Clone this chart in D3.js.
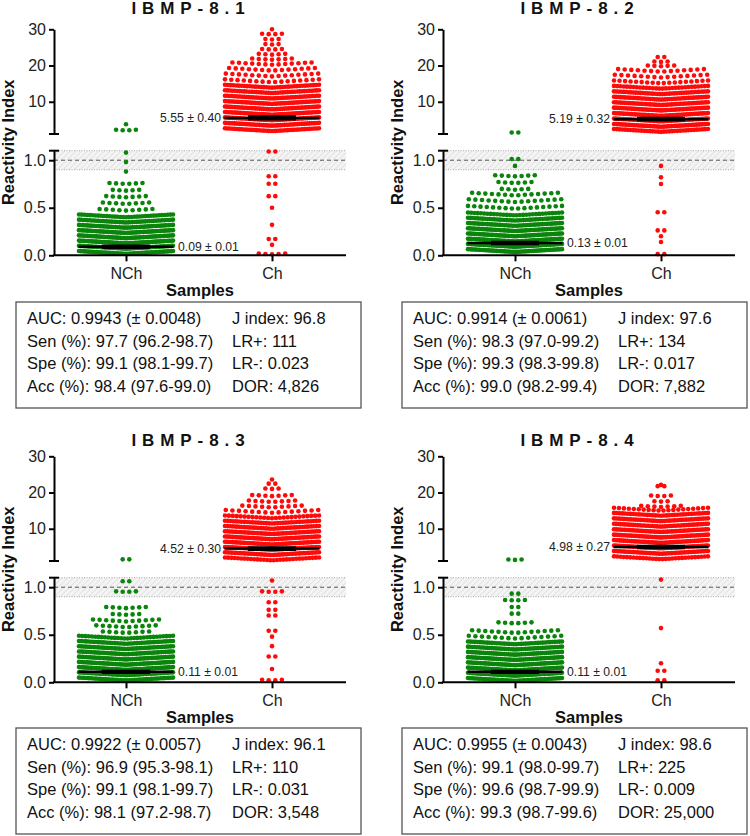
<!DOCTYPE html>
<html><head><meta charset="utf-8">
<script src="https://cdn.jsdelivr.net/npm/d3@7"></script>
<style>body{margin:0;background:#fff} text{font-family:"Liberation Sans",Arial,sans-serif}</style>
</head><body><svg id="c" width="750" height="836"></svg>
<script>
// ---------------- DATA ----------------
const panelTitles = ["IBMP-8.1", "IBMP-8.2", "IBMP-8.3", "IBMP-8.4"];
const categories = ["NCh", "Ch"];
const upperTicks = [10, 20, 30];
const lowerTicks = [0.0, 0.5, 1.0];
const cutoffLow = 0.9, cutoffMid = 1.0, cutoffHigh = 1.1;

// swarm rows: [reactivity index, number of dots in the row]
const nch1 = [[3.8,1],[2.1,4],[1.08,1],[0.98,1],[0.88,1],[0.75,6],[0.68,5],[0.61,7],[0.54,8],[0.47,9],
  [0.40,35],[0.345,45],[0.29,50],[0.235,55],[0.18,55],[0.125,60],[0.07,60],[0.015,50]];
const ch1 = [[30.0,1],[28.6,4],[27.2,3],[25.8,3],[24.4,4],[23.0,5],[21.6,7],[20.2,13],[18.6,14],[17.0,15],[15.4,16],
  [13.9,35],[12.4,40],[10.9,45],[9.4,45],[7.9,50],[6.4,50],[4.9,50],[3.4,50],[1.9,40],
  [1.09,2],[0.83,2],[0.75,2],[0.62,2],[0.50,1],[0.32,1],[0.17,2],[0.11,1],[0.01,5]];
const nch2 = [[1.45,2],[1.01,2],[0.94,1],[0.83,7],[0.76,6],[0.69,5],[0.63,14],[0.56,15],[0.49,16],
  [0.42,30],[0.365,40],[0.31,45],[0.255,50],[0.20,55],[0.145,60],[0.09,60],[0.035,50]];
const ch2 = [[22.3,2],[21.0,3],[19.8,5],[18.3,14],[16.7,15],[15.1,18],
  [13.6,30],[12.1,40],[10.6,45],[9.1,45],[7.6,50],[6.1,50],[4.6,50],[3.1,50],[1.7,35],
  [0.94,1],[0.82,1],[0.75,1],[0.45,2],[0.26,2],[0.20,1],[0.14,1],[0.01,2]];
const nch3 = [[1.5,2],[1.06,2],[0.95,4],[0.78,7],[0.71,5],[0.64,11],[0.58,10],[0.52,8],
  [0.46,30],[0.405,40],[0.35,45],[0.295,50],[0.24,50],[0.185,55],[0.13,60],[0.075,55],[0.02,40]];
const ch3 = [[23.6,1],[22.4,2],[21.0,3],[19.0,7],[17.4,8],[15.9,10],[14.4,15],
  [12.9,25],[11.45,35],[10.0,40],[8.55,45],[7.1,50],[5.65,50],[4.2,50],[2.75,45],[1.3,30],
  [1.07,1],[0.95,4],[0.84,2],[0.76,2],[0.70,2],[0.54,2],[0.48,1],[0.38,1],[0.27,2],[0.14,1],[0.02,4]];
const nch4 = [[1.4,3],[0.93,2],[0.86,4],[0.79,2],[0.72,2],[0.62,6],[0.52,14],[0.46,15],
  [0.40,40],[0.345,45],[0.29,50],[0.235,50],[0.18,55],[0.125,55],[0.07,60],[0.015,45]];
const ch4 = [[22.1,1],[21.7,2],[19.0,4],[17.5,3],[16.0,7],[15.0,20],
  [13.6,35],[12.1,40],[10.6,45],[9.1,45],[7.6,50],[6.1,50],[4.6,50],[3.1,45],[1.6,30],
  [1.08,1],[0.57,1],[0.20,1],[0.12,2],[0.02,2]];

const nchRows = [nch1, nch2, nch3, nch4];
const chRows = [ch1, ch2, ch3, ch4];
const nchMean = [0.09, 0.13, 0.11, 0.11];
const nchSem = [0.01, 0.01, 0.01, 0.01];
const chMean = [5.55, 5.19, 4.52, 4.98];
const chSem = [0.40, 0.32, 0.30, 0.27];

const statsLeft = [
  ["AUC: 0.9943 (\u00b1 0.0048)", "Sen (%): 97.7 (96.2-98.7)", "Spe (%): 99.1 (98.1-99.7)", "Acc (%): 98.4 (97.6-99.0)"],
  ["AUC: 0.9914 (\u00b1 0.0061)", "Sen (%): 98.3 (97.0-99.2)", "Spe (%): 99.3 (98.3-99.8)", "Acc (%): 99.0 (98.2-99.4)"],
  ["AUC: 0.9922 (\u00b1 0.0057)", "Sen (%): 96.9 (95.3-98.1)", "Spe (%): 99.1 (98.1-99.7)", "Acc (%): 98.1 (97.2-98.7)"],
  ["AUC: 0.9955 (\u00b1 0.0043)", "Sen (%): 99.1 (98.0-99.7)", "Spe (%): 99.6 (98.7-99.9)", "Acc (%): 99.3 (98.7-99.6)"]
];
const statsRight = [
  ["J index: 96.8", "LR+: 111", "LR-: 0.023", "DOR: 4,826"],
  ["J index: 97.6", "LR+: 134", "LR-: 0.017", "DOR: 7,882"],
  ["J index: 96.1", "LR+: 110", "LR-: 0.031", "DOR: 3,548"],
  ["J index: 98.6", "LR+: 225", "LR-: 0.009", "DOR: 25,000"]
];

// ---------------- DRAWING ----------------
const colors = {NCh: "#0b840b", Ch: "#ff0a0a"};
const svg = d3.select("#c");
const defs = svg.append("defs");
const pat = defs.append("pattern").attr("id", "hatch").attr("patternUnits", "userSpaceOnUse")
  .attr("width", 4).attr("height", 4).attr("patternTransform", "rotate(45)");
pat.append("rect").attr("width", 4).attr("height", 4).attr("fill", "#f4f4f4");
pat.append("line").attr("x1", 0).attr("y1", 0).attr("x2", 0).attr("y2", 4).attr("stroke", "#dcdcdc").attr("stroke-width", 1.5);

const layouts = [
  {ax: 54, oy: 0, ty: 14, bx: 16, by: 302},
  {ax: 443, oy: 0, ty: 14, bx: 402, by: 302},
  {ax: 54, oy: 427, ty: 446, bx: 16, by: 728},
  {ax: 443, oy: 427, ty: 446, bx: 402, by: 728}
];

const SW = 94, DOT_GAP = 6.6, R = 2.3, TILT = 0.06;

layouts.forEach((L, p) => {
  const g = svg.append("g");
  const ax = L.ax, oy = L.oy;
  const x = d3.scalePoint().domain(categories).range([ax + 72, ax + 218]);
  const yUp = d3.scaleLinear().domain([cutoffHigh, 30]).range([134 + oy, 29.3 + oy]);
  const yLo = d3.scaleLinear().domain([0, cutoffHigh]).range([255.3 + oy, 150.7 + oy]);
  const yv = v => v > cutoffHigh ? yUp(v) : yLo(v);
  const xEnd = ax + 292;

  // cutoff grey zone
  g.append("rect").attr("x", ax + 1).attr("width", xEnd - ax - 1)
    .attr("y", yLo(cutoffHigh)).attr("height", yLo(cutoffLow) - yLo(cutoffHigh)).attr("fill", "url(#hatch)");
  [cutoffHigh, cutoffLow].forEach(v => g.append("line").attr("x1", ax).attr("x2", xEnd)
    .attr("y1", yLo(v)).attr("y2", yLo(v)).attr("stroke", "#a8a8a8").attr("stroke-width", 1).attr("stroke-dasharray", "1,1.5"));
  g.append("line").attr("x1", ax).attr("x2", xEnd).attr("y1", yLo(cutoffMid)).attr("y2", yLo(cutoffMid))
    .attr("stroke", "#555").attr("stroke-width", 1).attr("stroke-dasharray", "4,3");

  // swarm dots
  const groups = [["NCh", nchRows[p]], ["Ch", chRows[p]]];
  groups.forEach(([cat, rows]) => {
    const cx = x(cat);
    const pts = [];
    rows.forEach(([v, n]) => {
      const s = n > 1 ? Math.min(DOT_GAP, SW / (n - 1)) : 0;
      for (let i = 0; i < n; i++) {
        const dx = (i - (n - 1) / 2) * s;
        pts.push({x: cx + dx, y: yv(v) - TILT * Math.abs(dx)});
      }
    });
    g.append("g").selectAll("circle").data(pts).join("circle")
      .attr("cx", d => d.x).attr("cy", d => d.y).attr("r", R).attr("fill", colors[cat]);
  });

  // mean ± SEM
  const ms = [["NCh", nchMean[p], nchSem[p], "start"], ["Ch", chMean[p], chSem[p], "end"]];
  ms.forEach(([cat, m, s, anchor]) => {
    const cx = x(cat), ym = yv(m);
    g.append("line").attr("x1", cx - 47.5).attr("x2", cx + 47.5).attr("y1", ym).attr("y2", ym)
      .attr("stroke", "#000").attr("stroke-width", 2.5);
    [m - s, m + s].forEach(v => g.append("line").attr("x1", cx - 24).attr("x2", cx + 24)
      .attr("y1", yv(v)).attr("y2", yv(v)).attr("stroke", "#000").attr("stroke-width", 2.5));
    g.append("line").attr("x1", cx).attr("x2", cx).attr("y1", yv(m - s)).attr("y2", yv(m + s))
      .attr("stroke", "#000").attr("stroke-width", 2.5);
    g.append("text").attr("x", anchor === "start" ? cx + 52 : cx - 51).attr("y", ym)
      .attr("dy", "0.35em").attr("text-anchor", anchor).attr("font-size", 12.2).attr("fill", "#222")
      .text(m.toFixed(2) + " \u00b1 " + s.toFixed(2));
  });

  // y axes (broken)
  const styleAxis = sel => {
    sel.selectAll("path.domain").attr("stroke", "#000").attr("stroke-width", 2);
    sel.selectAll(".tick line").attr("stroke", "#000").attr("stroke-width", 2);
    sel.selectAll(".tick text").attr("font-size", 16).attr("fill", "#222")
      .attr("font-family", "'Liberation Sans', Arial, sans-serif");
  };
  g.append("g").attr("transform", `translate(${ax},0)`)
    .call(d3.axisLeft(yUp).tickValues(upperTicks).tickFormat(d3.format("d")).tickSize(5).tickSizeOuter(0).tickPadding(3))
    .call(styleAxis);
  g.append("g").attr("transform", `translate(${ax},0)`)
    .call(d3.axisLeft(yLo).tickValues(lowerTicks).tickFormat(d3.format(".1f")).tickSize(5).tickSizeOuter(0).tickPadding(3))
    .call(styleAxis);
  [yUp(cutoffHigh), yLo(cutoffHigh)].forEach(yy => g.append("line").attr("x1", ax - 5).attr("x2", ax + 5)
    .attr("y1", yy).attr("y2", yy).attr("stroke", "#000").attr("stroke-width", 2));

  // x axis
  g.append("line").attr("x1", ax - 1).attr("x2", xEnd).attr("y1", yLo(0)).attr("y2", yLo(0))
    .attr("stroke", "#000").attr("stroke-width", 2);
  const xa = g.append("g").attr("transform", `translate(0,${yLo(0)})`)
    .call(d3.axisBottom(x).tickSize(6).tickSizeOuter(0).tickPadding(6));
  xa.select("path.domain").remove();
  styleAxis(xa);

  // axis titles
  g.append("text").attr("transform", `translate(${ax - 40},${(yUp(30) + yLo(0)) / 2}) rotate(-90)`)
    .attr("text-anchor", "middle").attr("font-weight", "bold").attr("font-size", 16.5).attr("fill", "#111")
    .text("Reactivity Index");
  g.append("text").attr("x", ax + 146).attr("y", 296 + oy).attr("text-anchor", "middle")
    .attr("font-weight", "bold").attr("font-size", 16.5).attr("fill", "#111").text("Samples");

  // panel title
  g.append("text").attr("x", ax + 134 + 3).attr("y", L.ty).attr("text-anchor", "middle")
    .attr("font-weight", "bold").attr("font-size", 17).attr("letter-spacing", "5.9px").attr("fill", "#111")
    .text(panelTitles[p]);

  // stats box
  g.append("rect").attr("x", L.bx).attr("y", L.by).attr("width", 345).attr("height", 106)
    .attr("fill", "none").attr("stroke", "#555").attr("stroke-width", 1.3);
  statsLeft[p].forEach((t, i) => g.append("text").attr("x", L.bx + 11).attr("y", L.by + 22 + i * 22.7)
    .attr("font-size", 16.5).attr("fill", "#111").text(t));
  statsRight[p].forEach((t, i) => g.append("text").attr("x", L.bx + 216).attr("y", L.by + 22 + i * 22.7)
    .attr("font-size", 16.5).attr("fill", "#111").text(t));
});
</script></body></html>
